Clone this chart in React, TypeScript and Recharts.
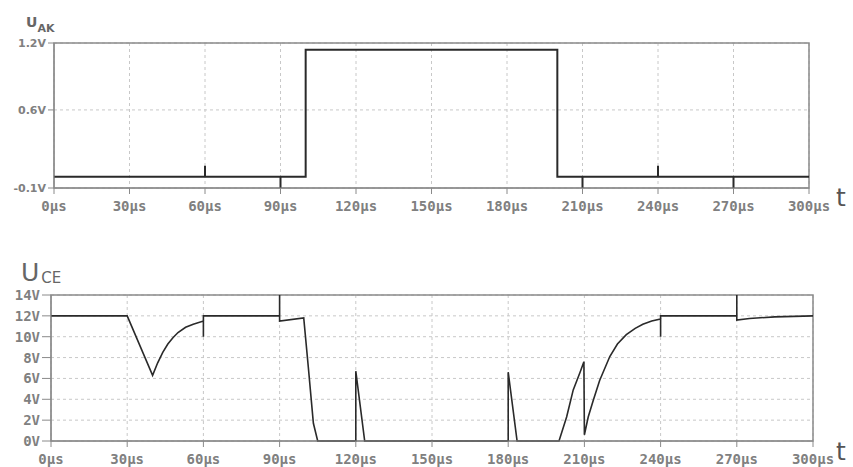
import { LineChart, Line, XAxis, YAxis, CartesianGrid, ReferenceArea } from "recharts";

// U_AK trace (time in µs, volts)
const uakTime = [0, 60, 60, 60, 90, 90, 90, 100, 100, 200, 200, 210, 210, 210, 240, 240, 240, 270, 270, 270, 300];
const uakVolt = [0, 0, 0.1, 0, 0, -0.1, 0, 0, 1.14, 1.14, 0, 0, -0.1, 0, 0, 0.1, 0, 0, -0.1, 0, 0];

// U_CE trace (time in µs, volts)
const uceTime = [
  0, 30, 40, 42, 44, 46, 48, 50, 53, 56, 60, 60, 60, 90, 90, 90, 99.5, 101.3, 103.3, 105,
  120, 120, 123.5, 180, 180, 183.5, 200, 203, 205.6, 208.3, 209.8, 210, 211.5, 213.5, 216,
  220, 223, 226.5, 230, 233, 236.5, 240, 240, 240, 270, 270, 270, 275, 285, 300,
];
const uceVolt = [
  12, 12, 6.3, 7.5, 8.5, 9.3, 9.9, 10.4, 10.9, 11.2, 11.5, 10, 12, 12, 14, 11.5, 11.8, 7.1, 1.7, 0,
  0, 6.7, 0, 0, 6.6, 0, 0, 2.3, 4.9, 6.6, 7.6, 0.6, 2.3, 3.9, 5.8,
  8.1, 9.3, 10.2, 10.8, 11.2, 11.5, 11.7, 10, 12, 12, 14, 11.6, 11.75, 11.9, 12,
];

const timeTicks = [0, 30, 60, 90, 120, 150, 180, 210, 240, 270, 300];
const uakTicks = [-0.1, 0.6, 1.2];
const uceTicks = [0, 2, 4, 6, 8, 10, 12, 14];

const uakData = uakTime.map((t, i) => ({ t, v: uakVolt[i] }));
const uceData = uceTime.map((t, i) => ({ t, v: uceVolt[i] }));

const tickFont = { fontFamily: "DejaVu Sans Mono", fontSize: 14, fontWeight: "bold", fill: "#808080" };
const yFont = { fontFamily: "DejaVu Sans", fontSize: 11, fontWeight: "bold", fill: "#808080" };
const axisStroke = "#8a8a8a";

export default function App() {
  return (
    <div style={{ position: "absolute", left: 0, top: 0, width: 853, height: 467, background: "#fff", fontFamily: "DejaVu Sans" }}>
      <div style={{ position: "absolute", left: 26, top: 12, color: "#666", fontWeight: "bold" }}>
        <span style={{ fontSize: 14 }}>U</span>
        <span style={{ fontSize: 11, position: "relative", top: 5 }}>AK</span>
      </div>
      <div style={{ position: "absolute", left: 21, top: 258, color: "#666" }}>
        <span style={{ fontSize: 25 }}>U</span>
        <span style={{ fontSize: 15, position: "relative", top: 2, marginLeft: 2 }}>CE</span>
      </div>
      <div style={{ position: "absolute", left: 836, top: 186, fontSize: 25, lineHeight: "24px", color: "#555" }}>t</div>
      <div style={{ position: "absolute", left: 836, top: 440, fontSize: 25, lineHeight: "24px", color: "#555" }}>t</div>

      <div style={{ position: "absolute", left: 0, top: 0 }}>
        <LineChart width={853} height={218} data={uakData} margin={{ top: 43, right: 44, bottom: 0, left: 0 }}>
          <CartesianGrid stroke="#c8c8c8" strokeDasharray="3 3" />
          <XAxis
            dataKey="t"
            type="number"
            domain={[0, 300]}
            ticks={timeTicks}
            tickFormatter={(v) => `${v}μs`}
            tick={tickFont}
            stroke={axisStroke}
            tickMargin={7}
            height={30}
            interval={0}
          />
          <YAxis
            type="number"
            domain={[-0.1, 1.2]}
            ticks={uakTicks}
            tickFormatter={(v) => `${v}V`}
            tick={yFont}
            stroke={axisStroke}
            width={54}
            interval={0}
          />
          <ReferenceArea x1={0} x2={300} y1={-0.1} y2={1.2} fill="none" stroke={axisStroke} strokeWidth={1.5} />
          <Line dataKey="v" type="linear" stroke="#2a2a2a" strokeWidth={2} dot={false} isAnimationActive={false} />
        </LineChart>
      </div>

      <div style={{ position: "absolute", left: 0, top: 240 }}>
        <LineChart width={853} height={227} data={uceData} margin={{ top: 55, right: 40, bottom: 0, left: 0 }}>
          <CartesianGrid stroke="#c8c8c8" strokeDasharray="3 3" />
          <XAxis
            dataKey="t"
            type="number"
            domain={[0, 300]}
            ticks={timeTicks}
            tickFormatter={(v) => `${v}μs`}
            tick={tickFont}
            stroke={axisStroke}
            tickMargin={7}
            height={26}
            interval={0}
          />
          <YAxis
            type="number"
            domain={[0, 14]}
            ticks={uceTicks}
            tickFormatter={(v) => `${v}V`}
            tick={tickFont}
            stroke={axisStroke}
            tickSize={9}
            width={51}
            interval={0}
          />
          <ReferenceArea x1={0} x2={300} y1={0} y2={14} fill="none" stroke={axisStroke} strokeWidth={1.5} />
          <Line dataKey="v" type="linear" stroke="#2a2a2a" strokeWidth={1.6} dot={false} isAnimationActive={false} />
        </LineChart>
      </div>
    </div>
  );
}
